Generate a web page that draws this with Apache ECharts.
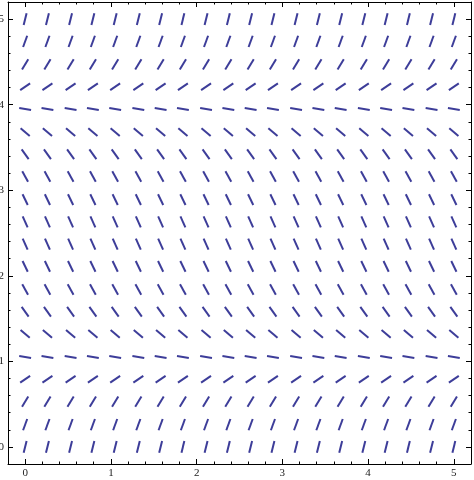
<!DOCTYPE html>
<html>
<head>
<meta charset="utf-8">
<script src="https://cdn.jsdelivr.net/npm/echarts@6/dist/echarts.min.js"></script>
<style>html,body{margin:0;padding:0;background:#fff;}#c{width:474px;height:480px;}</style>
</head>
<body>
<div id="c"></div>
<script>
// Grid sample positions (x and y share the same 20 sample points)
const xSamples = [0, 0.26, 0.53, 0.79, 1.05, 1.32, 1.58, 1.84, 2.11, 2.37, 2.63, 2.89, 3.16, 3.42, 3.68, 3.95, 4.21, 4.47, 4.74, 5];
const ySamples = [0, 0.26, 0.53, 0.79, 1.05, 1.32, 1.58, 1.84, 2.11, 2.37, 2.63, 2.89, 3.16, 3.42, 3.68, 3.95, 4.21, 4.47, 4.74, 5];
// Slope read for each row (same across a row)
const rowSlopes = [4.0, 2.75, 1.65, 0.68, -0.16, -0.85, -1.4, -1.82, -2.09, -2.23, -2.23, -2.09, -1.82, -1.4, -0.85, -0.16, 0.68, 1.65, 2.75, 4.0];
// Tick values
const majorTicks = [0, 1, 2, 3, 4, 5];
const minorTicks = [-0.2, 0.2, 0.4, 0.6, 0.8, 1.2, 1.4, 1.6, 1.8, 2.2, 2.4, 2.6, 2.8, 3.2, 3.4, 3.6, 3.8, 4.2, 4.4, 4.6, 4.8, 5.2];
const axisMin = -0.2, axisMax = 5.2;

const data = [];
ySamples.forEach((y, i) => {
  xSamples.forEach(x => data.push([x, y, rowSlopes[i]]));
});

const font = {fontFamily: 'Liberation Serif', fontSize: 11, color: '#222'};
function mkAxis(pos, major, labels, line) {
  return {
    type: 'value', position: pos, min: axisMin, max: axisMax,
    axisLine: {show: line, onZero: false, lineStyle: {color: '#000', width: 1}},
    axisTick: {show: true, inside: true, length: major ? 5 : 2.5, customValues: major ? majorTicks : minorTicks, lineStyle: {color: '#000', width: 1}},
    axisLabel: labels ? Object.assign({show: true, customValues: majorTicks, margin: 4, formatter: v => String(v)}, font) : {show: false},
    splitLine: {show: false}
  };
}

const chart = echarts.init(document.getElementById('c'), null, {renderer: 'canvas'});
chart.setOption({
  animation: false,
  backgroundColor: '#fff',
  grid: {left: 8, right: 3, top: 2, bottom: 16, containLabel: false, outerBoundsMode: 'none'},
  xAxis: [mkAxis('bottom', true, true, true), mkAxis('bottom', false, false, false), mkAxis('top', true, false, true), mkAxis('top', false, false, false)],
  yAxis: [mkAxis('left', true, true, true), mkAxis('left', false, false, false), mkAxis('right', true, false, true), mkAxis('right', false, false, false)],
  series: [{
    type: 'custom',
    xAxisIndex: 0, yAxisIndex: 0,
    clip: false,
    data: data,
    renderItem: function (params, api) {
      const x = api.value(0), y = api.value(1), s = api.value(2);
      const c = api.coord([x, y]);
      const d = api.coord([x + 0.1, y + 0.1 * s]);
      let vx = d[0] - c[0], vy = d[1] - c[1];
      const n = Math.hypot(vx, vy);
      vx /= n; vy /= n;
      const h = 6;
      return {
        type: 'line',
        shape: {x1: c[0] - vx * h, y1: c[1] - vy * h, x2: c[0] + vx * h, y2: c[1] + vy * h},
        style: {stroke: '#3d3d99', lineWidth: 2}
      };
    }
  }]
});
</script>
</body>
</html>
